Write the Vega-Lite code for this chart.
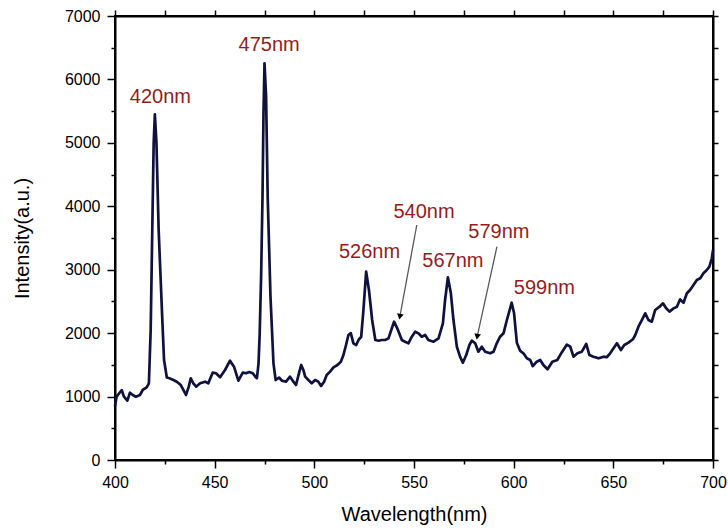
{
  "$schema": "https://vega.github.io/schema/vega-lite/v6.json",
  "width": 598,
  "height": 444,
  "autosize": "none",
  "padding": {"left": 115, "top": 16, "right": 15, "bottom": 72},
  "background": "white",
  "config": {
    "view": {"stroke": "#000000", "strokeWidth": 2},
    "font": "Liberation Sans",
    "axis": {
      "grid": false,
      "domainColor": "#000000",
      "domainWidth": 2,
      "tickColor": "#000000",
      "tickWidth": 1.5,
      "labelColor": "#000000",
      "labelFont": "Liberation Sans",
      "labelFontSize": 16,
      "labelFlush": false,
      "labelOverlap": false,
      "titleFont": "Liberation Sans",
      "titleFontSize": 20,
      "titleFontWeight": "normal",
      "titleColor": "#000000"
    }
  },
  "resolve": {"axis": {"x": "independent", "y": "independent"}},
  "datasets": {
    "spectrum": [
      {"wavelength": 400.0, "intensity": 850},
      {"wavelength": 400.8, "intensity": 1000},
      {"wavelength": 402.3, "intensity": 1060},
      {"wavelength": 403.4, "intensity": 1100},
      {"wavelength": 404.5, "intensity": 1000},
      {"wavelength": 406.2, "intensity": 935},
      {"wavelength": 407.5, "intensity": 1061},
      {"wavelength": 408.9, "intensity": 1025},
      {"wavelength": 410.5, "intensity": 998},
      {"wavelength": 412.5, "intensity": 1025},
      {"wavelength": 413.9, "intensity": 1104},
      {"wavelength": 415.9, "intensity": 1146},
      {"wavelength": 417.0, "intensity": 1209},
      {"wavelength": 417.9, "intensity": 2050},
      {"wavelength": 418.7, "intensity": 3626},
      {"wavelength": 419.4, "intensity": 4993},
      {"wavelength": 420.0, "intensity": 5450},
      {"wavelength": 420.8, "intensity": 4993},
      {"wavelength": 421.9, "intensity": 3626},
      {"wavelength": 423.6, "intensity": 2313},
      {"wavelength": 424.6, "intensity": 1577},
      {"wavelength": 426.0, "intensity": 1300},
      {"wavelength": 427.3, "intensity": 1288},
      {"wavelength": 429.3, "intensity": 1261},
      {"wavelength": 431.0, "intensity": 1235},
      {"wavelength": 433.0, "intensity": 1182},
      {"wavelength": 434.3, "intensity": 1104},
      {"wavelength": 435.6, "intensity": 1025},
      {"wavelength": 437.0, "intensity": 1156},
      {"wavelength": 438.0, "intensity": 1288},
      {"wavelength": 439.3, "intensity": 1209},
      {"wavelength": 440.7, "intensity": 1156},
      {"wavelength": 442.7, "intensity": 1209},
      {"wavelength": 445.2, "intensity": 1235},
      {"wavelength": 446.8, "intensity": 1209},
      {"wavelength": 449.0, "intensity": 1377},
      {"wavelength": 450.7, "intensity": 1367},
      {"wavelength": 452.7, "intensity": 1304},
      {"wavelength": 455.2, "intensity": 1419},
      {"wavelength": 457.7, "intensity": 1566},
      {"wavelength": 459.7, "intensity": 1471},
      {"wavelength": 461.9, "intensity": 1251},
      {"wavelength": 464.1, "intensity": 1377},
      {"wavelength": 465.7, "intensity": 1367},
      {"wavelength": 467.4, "intensity": 1387},
      {"wavelength": 469.1, "intensity": 1367},
      {"wavelength": 470.4, "intensity": 1314},
      {"wavelength": 471.2, "intensity": 1290},
      {"wavelength": 472.0, "intensity": 1520},
      {"wavelength": 472.6, "intensity": 2000},
      {"wavelength": 473.3, "intensity": 2900},
      {"wavelength": 474.0, "intensity": 4150},
      {"wavelength": 474.5, "intensity": 5466},
      {"wavelength": 475.0, "intensity": 6254},
      {"wavelength": 475.8, "intensity": 5728},
      {"wavelength": 476.6, "intensity": 4151},
      {"wavelength": 478.0, "intensity": 2575},
      {"wavelength": 479.5, "intensity": 1524},
      {"wavelength": 480.6, "intensity": 1261},
      {"wavelength": 482.3, "intensity": 1300},
      {"wavelength": 483.8, "intensity": 1250},
      {"wavelength": 485.8, "intensity": 1235},
      {"wavelength": 487.8, "intensity": 1314},
      {"wavelength": 489.5, "intensity": 1235},
      {"wavelength": 490.8, "intensity": 1182},
      {"wavelength": 492.5, "intensity": 1393},
      {"wavelength": 493.4, "intensity": 1498},
      {"wavelength": 494.5, "intensity": 1420},
      {"wavelength": 495.4, "intensity": 1314},
      {"wavelength": 497.0, "intensity": 1261},
      {"wavelength": 498.7, "intensity": 1209},
      {"wavelength": 500.4, "intensity": 1261},
      {"wavelength": 502.0, "intensity": 1235},
      {"wavelength": 503.4, "intensity": 1167},
      {"wavelength": 504.9, "intensity": 1235},
      {"wavelength": 506.2, "intensity": 1340},
      {"wavelength": 507.9, "intensity": 1393},
      {"wavelength": 509.6, "intensity": 1461},
      {"wavelength": 511.6, "intensity": 1498},
      {"wavelength": 513.3, "intensity": 1550},
      {"wavelength": 514.6, "intensity": 1655},
      {"wavelength": 515.9, "intensity": 1813},
      {"wavelength": 517.1, "intensity": 1971},
      {"wavelength": 518.3, "intensity": 2000},
      {"wavelength": 519.6, "intensity": 1840},
      {"wavelength": 521.0, "intensity": 1813},
      {"wavelength": 522.3, "intensity": 1900},
      {"wavelength": 523.5, "intensity": 1940},
      {"wavelength": 524.6, "intensity": 2350},
      {"wavelength": 526.0, "intensity": 2969},
      {"wavelength": 527.4, "intensity": 2680},
      {"wavelength": 529.0, "intensity": 2207},
      {"wavelength": 530.6, "intensity": 1892},
      {"wavelength": 532.2, "intensity": 1880},
      {"wavelength": 533.8, "intensity": 1892},
      {"wavelength": 535.5, "intensity": 1892},
      {"wavelength": 537.2, "intensity": 1918},
      {"wavelength": 538.6, "intensity": 2050},
      {"wavelength": 540.0, "intensity": 2181},
      {"wavelength": 541.6, "intensity": 2076},
      {"wavelength": 543.9, "intensity": 1892},
      {"wavelength": 545.5, "intensity": 1865},
      {"wavelength": 547.2, "intensity": 1840},
      {"wavelength": 548.9, "intensity": 1944},
      {"wavelength": 550.6, "intensity": 2023},
      {"wavelength": 552.2, "intensity": 1997},
      {"wavelength": 553.9, "intensity": 1944},
      {"wavelength": 555.6, "intensity": 1971},
      {"wavelength": 557.2, "intensity": 1892},
      {"wavelength": 559.8, "intensity": 1865},
      {"wavelength": 562.3, "intensity": 1918},
      {"wavelength": 564.5, "intensity": 2155},
      {"wavelength": 565.6, "intensity": 2523},
      {"wavelength": 567.0, "intensity": 2880},
      {"wavelength": 568.5, "intensity": 2628},
      {"wavelength": 569.8, "intensity": 2207},
      {"wavelength": 571.5, "intensity": 1786},
      {"wavelength": 573.1, "intensity": 1629},
      {"wavelength": 574.5, "intensity": 1534},
      {"wavelength": 576.2, "intensity": 1655},
      {"wavelength": 577.8, "intensity": 1813},
      {"wavelength": 579.0, "intensity": 1881},
      {"wavelength": 580.7, "intensity": 1840},
      {"wavelength": 582.3, "intensity": 1708},
      {"wavelength": 584.0, "intensity": 1786},
      {"wavelength": 585.7, "intensity": 1708},
      {"wavelength": 588.2, "intensity": 1682},
      {"wavelength": 589.9, "intensity": 1708},
      {"wavelength": 591.5, "intensity": 1840},
      {"wavelength": 593.2, "intensity": 1944},
      {"wavelength": 594.9, "intensity": 1997},
      {"wavelength": 596.6, "intensity": 2207},
      {"wavelength": 599.0, "intensity": 2480},
      {"wavelength": 600.2, "intensity": 2313},
      {"wavelength": 601.6, "intensity": 1850},
      {"wavelength": 603.3, "intensity": 1720},
      {"wavelength": 604.9, "intensity": 1682},
      {"wavelength": 606.6, "intensity": 1603},
      {"wavelength": 608.3, "intensity": 1577},
      {"wavelength": 609.6, "intensity": 1480},
      {"wavelength": 611.6, "intensity": 1550},
      {"wavelength": 613.3, "intensity": 1577},
      {"wavelength": 614.9, "intensity": 1498},
      {"wavelength": 617.0, "intensity": 1430},
      {"wavelength": 619.4, "intensity": 1550},
      {"wavelength": 621.9, "intensity": 1577},
      {"wavelength": 624.2, "intensity": 1700},
      {"wavelength": 626.7, "intensity": 1820},
      {"wavelength": 628.4, "intensity": 1786},
      {"wavelength": 630.0, "intensity": 1629},
      {"wavelength": 632.0, "intensity": 1682},
      {"wavelength": 634.2, "intensity": 1708},
      {"wavelength": 636.4, "intensity": 1829},
      {"wavelength": 638.0, "intensity": 1655},
      {"wavelength": 640.0, "intensity": 1629},
      {"wavelength": 642.6, "intensity": 1603},
      {"wavelength": 645.1, "intensity": 1629},
      {"wavelength": 646.7, "intensity": 1620},
      {"wavelength": 648.4, "intensity": 1682},
      {"wavelength": 650.1, "intensity": 1761},
      {"wavelength": 651.8, "intensity": 1840},
      {"wavelength": 653.8, "intensity": 1734},
      {"wavelength": 655.5, "intensity": 1813},
      {"wavelength": 657.6, "intensity": 1850},
      {"wavelength": 659.8, "intensity": 1903},
      {"wavelength": 661.0, "intensity": 1971},
      {"wavelength": 662.6, "intensity": 2102},
      {"wavelength": 664.3, "intensity": 2207},
      {"wavelength": 666.0, "intensity": 2313},
      {"wavelength": 667.6, "intensity": 2207},
      {"wavelength": 669.3, "intensity": 2181},
      {"wavelength": 671.0, "intensity": 2365},
      {"wavelength": 673.2, "intensity": 2417},
      {"wavelength": 674.9, "intensity": 2470},
      {"wavelength": 676.5, "intensity": 2391},
      {"wavelength": 678.2, "intensity": 2339},
      {"wavelength": 680.2, "intensity": 2391},
      {"wavelength": 681.9, "intensity": 2417},
      {"wavelength": 683.5, "intensity": 2533},
      {"wavelength": 685.2, "intensity": 2480},
      {"wavelength": 686.9, "intensity": 2628},
      {"wavelength": 688.5, "intensity": 2680},
      {"wavelength": 690.2, "intensity": 2759},
      {"wavelength": 691.9, "intensity": 2838},
      {"wavelength": 693.6, "intensity": 2865},
      {"wavelength": 695.2, "intensity": 2943},
      {"wavelength": 696.9, "intensity": 2995},
      {"wavelength": 698.2, "intensity": 3048},
      {"wavelength": 699.4, "intensity": 3180},
      {"wavelength": 700.0, "intensity": 3311}
    ],
    "peaks": [
      {"label": "420nm", "wavelength": 422.8, "intensity": 5723},
      {"label": "475nm", "wavelength": 477.3, "intensity": 6543},
      {"label": "526nm", "wavelength": 527.7, "intensity": 3284},
      {"label": "540nm", "wavelength": 555.0, "intensity": 3915},
      {"label": "567nm", "wavelength": 569.5, "intensity": 3137},
      {"label": "579nm", "wavelength": 592.6, "intensity": 3600},
      {"label": "599nm", "wavelength": 615.4, "intensity": 2707}
    ],
    "arrows": [
      {"peak": "540nm", "from_wl": 551.4, "from_int": 3705, "to_wl": 542.9, "to_int": 2259},
      {"peak": "579nm", "from_wl": 591.6, "from_int": 3363, "to_wl": 581.7, "to_int": 1944}
    ]
  },
  "layer": [
    {
      "data": {"name": "spectrum"},
      "mark": {"type": "line", "color": "#11113f", "strokeWidth": 2.7, "strokeJoin": "round"},
      "encoding": {
        "x": {
          "field": "wavelength", "type": "quantitative",
          "scale": {"domain": [400, 700], "nice": false, "zero": false},
          "axis": {
            "orient": "bottom",
            "title": "Wavelength(nm)",
            "values": [400, 425, 450, 475, 500, 525, 550, 575, 600, 625, 650, 675, 700],
            "format": "d",
            "labelExpr": "datum.value % 50 === 0 ? datum.label : ''",
            "tickSize": {"condition": {"test": "datum.value % 50 === 0", "value": 8}, "value": 4},
            "labelPadding": 6,
            "titlePadding": 14
          }
        },
        "y": {
          "field": "intensity", "type": "quantitative",
          "scale": {"domain": [0, 7000], "nice": false},
          "axis": {
            "orient": "left",
            "title": "Intensity(a.u.)",
            "values": [0, 500, 1000, 1500, 2000, 2500, 3000, 3500, 4000, 4500, 5000, 5500, 6000, 6500, 7000],
            "format": "d",
            "labelExpr": "datum.value % 1000 === 0 ? datum.label : ''",
            "tickSize": {"condition": {"test": "datum.value % 1000 === 0", "value": 8}, "value": 4},
            "labelPadding": 7,
            "titlePadding": 32
          }
        }
      }
    },
    {
      "mark": {"type": "rule", "color": "#000000", "strokeWidth": 2},
      "encoding": {
        "y": {"datum": 7000, "type": "quantitative", "scale": {"domain": [0, 7000], "nice": false}, "axis": null}
      }
    },
    {
      "data": {"name": "arrows"},
      "mark": {"type": "rule", "color": "#5a5a5a", "strokeWidth": 1.3},
      "encoding": {
        "x": {"field": "from_wl", "type": "quantitative", "scale": {"domain": [400, 700], "nice": false, "zero": false}, "axis": null},
        "y": {"field": "from_int", "type": "quantitative", "scale": {"domain": [0, 7000], "nice": false}, "axis": null},
        "x2": {"field": "to_wl"},
        "y2": {"field": "to_int"}
      }
    },
    {
      "data": {"name": "arrows"},
      "mark": {"type": "point", "shape": "triangle-down", "filled": true, "color": "#000000", "size": 45, "opacity": 1, "angle": 10},
      "encoding": {
        "x": {
          "field": "to_wl", "type": "quantitative",
          "scale": {"domain": [400, 700], "nice": false, "zero": false},
          "axis": {
            "orient": "top", "title": null, "labels": false,
            "values": [400, 425, 450, 475, 500, 525, 550, 575, 600, 625, 650, 675, 700],
            "tickSize": 6
          }
        },
        "y": {"field": "to_int", "type": "quantitative", "scale": {"domain": [0, 7000], "nice": false}, "axis": null}
      }
    },
    {
      "data": {"name": "peaks"},
      "mark": {"type": "text", "font": "Liberation Sans", "fontSize": 20, "color": "#961c1c", "align": "center", "baseline": "middle"},
      "encoding": {
        "x": {"field": "wavelength", "type": "quantitative", "scale": {"domain": [400, 700], "nice": false, "zero": false}, "axis": null},
        "y": {
          "field": "intensity", "type": "quantitative",
          "scale": {"domain": [0, 7000], "nice": false},
          "axis": {
            "orient": "right", "title": null, "labels": false,
            "values": [0, 500, 1000, 1500, 2000, 2500, 3000, 3500, 4000, 4500, 5000, 5500, 6000, 6500, 7000],
            "tickSize": 5
          }
        },
        "text": {"field": "label"}
      }
    }
  ]
}
